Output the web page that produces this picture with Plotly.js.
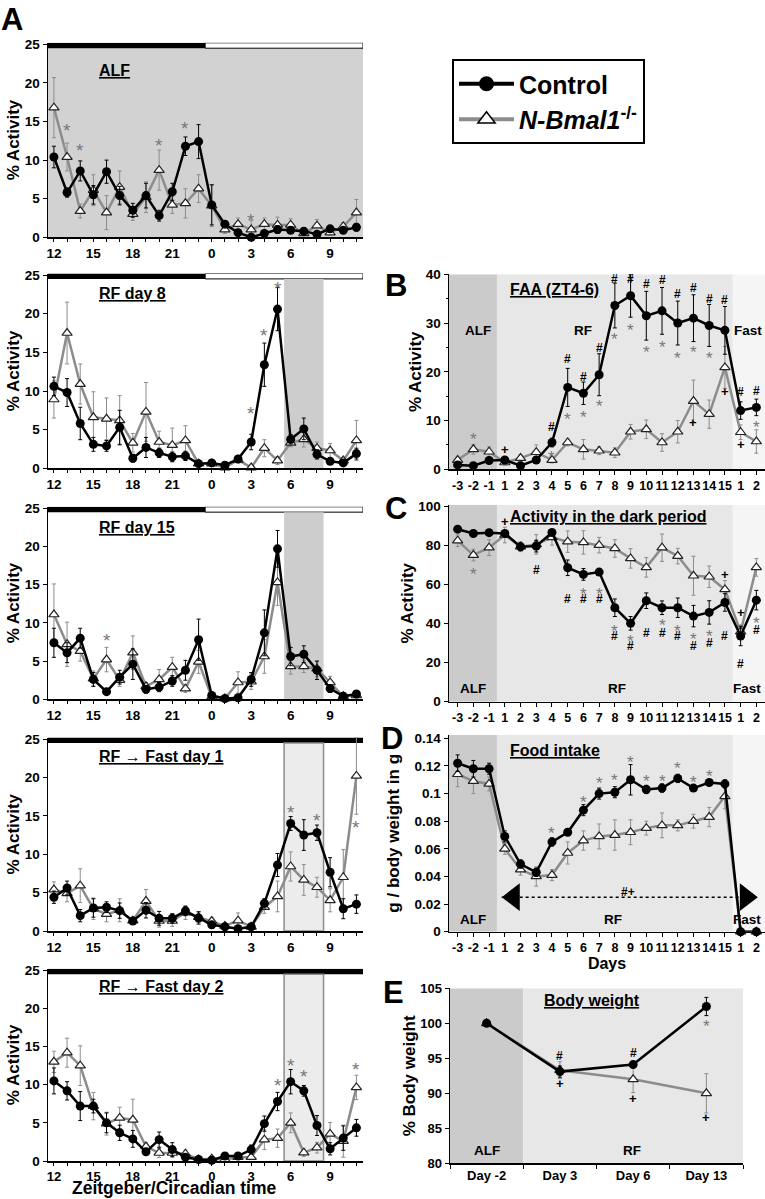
<!DOCTYPE html>
<html>
<head>
<meta charset="utf-8">
<script src="https://cdn.plot.ly/plotly-3.0.1.min.js"></script>
<style>body{margin:0;background:#fff}</style>
</head>
<body>
<div id="fig" style="width:765px;height:1199px"></div>
<script>
// circadian hours on the left column, ZT12 -> ZT11
var hours = [12,13,14,15,16,17,18,19,20,21,22,23,0,1,2,3,4,5,6,7,8,9,10,11];
var days = ['-3','-2','-1','1','2','3','4','5','6','7','8','9','10','11','12','13','14','15','1','2'];
var bwDays = ['Day -2','Day 3','Day 6','Day 13'];

// A - ALF
var alfCtl    = [10.4,5.8,8.6,5.5,8.5,5.4,3.5,5.4,2.8,5.9,11.8,12.4,4.2,1.7,0.6,0.0,0.5,1.0,0.9,0.8,0.4,1.1,0.9,1.3];
var alfCtlErr = [1.4,0.6,1.3,1.2,1.5,1.2,0.9,1.6,0.7,1.1,1.2,2.2,2.6,0.4,0.4,0.3,0.4,0.5,0.4,0.4,0.3,0.4,0.3,0.5];
var alfKo     = [16.8,10.4,3.4,6.1,3.2,6.5,3.0,5.2,8.7,4.2,4.4,6.3,4.1,1.0,1.7,1.0,1.7,1.6,1.6,0.5,1.5,0.6,1.4,3.2];
var alfKoErr  = [3.9,1.8,0.9,2.0,2.2,2.1,0.8,2.0,2.6,1.1,1.9,1.8,2.7,0.5,0.8,1.2,0.8,1.0,0.8,0.3,0.8,0.3,0.5,1.7];
var alfStarAt = [1,2,8,10,15];
var alfStarY  = [14.5,11.9,12.6,14.7,2.8];

// A - RF day 8
var rf8Ctl    = [10.6,9.8,5.8,3.1,2.9,5.3,1.3,2.7,2.0,1.5,1.6,0.6,0.7,0.4,1.2,3.4,13.4,20.6,3.75,5.1,1.8,0.9,0.7,1.9];
var rf8CtlErr = [1.2,1.8,2.1,0.9,0.7,2.2,0.5,1.3,0.6,0.6,0.6,0.3,0.3,0.3,0.4,1.0,2.8,2.8,0.6,1.4,0.6,0.4,0.3,0.7];
var rf8Ko     = [8.9,17.5,10.9,6.6,6.4,6.2,3.3,7.3,3.4,3.0,3.6,0.6,0.6,0.1,1.1,0.1,2.6,1.0,3.3,3.75,2.6,2.3,1.0,3.6];
var rf8KoErr  = [2.4,4.0,2.6,3.3,2.7,3.2,1.2,3.8,1.4,2.2,1.9,0.3,0.3,0.1,0.4,0.1,1.1,0.5,0.5,1.0,0.8,0.9,0.4,2.6];
var rf8StarAt = [15,16,17];
var rf8StarY  = [7.7,17.8,23.9];

// A - RF day 15
var rf15Ctl    = [7.4,6.1,8.0,2.6,1.0,2.9,4.6,1.3,1.6,2.4,3.8,7.8,0.5,0.1,0.2,2.6,8.7,19.7,5.6,5.9,3.8,1.4,0.4,0.7];
var rf15CtlErr = [1.9,1.3,1.3,0.9,0.4,0.9,2.0,0.5,0.6,0.7,1.3,2.7,0.3,0.1,0.1,0.9,3.0,2.4,1.2,1.1,1.2,0.5,0.3,0.3];
var rf15Ko     = [11.1,7.2,6.3,2.7,5.2,2.5,6.1,1.7,2.6,4.2,1.4,4.9,0.3,0.1,2.2,2.3,5.6,15.3,4.3,4.3,4.0,2.2,0.4,0.5];
var rf15KoErr  = [4.0,2.9,1.3,1.0,1.6,0.8,2.2,0.5,1.3,1.3,0.5,1.5,0.2,0.1,1.4,1.0,2.2,3.0,1.0,0.8,1.0,0.8,0.3,0.3];
var rf15StarAt = [4];
var rf15StarY  = [8.3];

// A - RF -> Fast day 1
var f1Ctl    = [4.4,5.6,2.0,3.0,3.1,2.65,1.3,2.7,1.65,1.65,2.6,1.7,0.8,0.55,0.3,0.55,3.6,8.6,14.0,12.5,12.8,7.65,2.9,3.5];
var f1CtlErr = [0.8,0.9,0.8,1.2,0.7,1.0,0.4,1.0,0.9,0.6,0.6,0.8,0.4,0.3,0.2,0.3,0.6,1.5,0.9,2.0,1.0,1.9,1.3,1.2];
var f1Ko     = [5.4,4.9,5.9,2.9,2.2,2.7,1.35,3.9,1.3,1.3,2.4,1.8,1.3,0.65,1.35,0.55,3.1,4.5,8.4,6.65,5.7,4.0,7.0,20.2];
var f1KoErr  = [1.0,1.1,2.2,1.4,1.0,1.5,0.4,1.5,0.8,0.7,0.9,0.7,0.4,0.3,1.0,0.3,0.8,2.0,1.9,2.0,1.3,1.5,3.6,5.0];
var f1StarAt = [18,20,23];
var f1StarY  = [16.1,15.0,14.1];

// A - RF -> Fast day 2
var f2Ctl    = [10.5,9.2,7.2,7.2,5.0,3.7,2.9,1.2,2.8,1.5,0.5,0.2,0.1,0.65,0.65,1.5,4.9,7.8,10.4,9.2,4.65,1.6,3.0,4.35];
var f2CtlErr = [1.7,1.2,1.9,0.9,1.3,1.0,1.1,0.4,1.0,0.9,0.4,0.2,0.1,0.3,0.3,0.6,1.0,1.2,1.6,0.7,1.3,0.8,1.6,1.1];
var f2Ko     = [13.0,14.2,12.5,7.2,4.9,5.65,5.4,1.9,1.05,1.05,0.95,0.2,0.3,0.2,0.5,0.5,2.8,3.0,5.0,1.1,1.75,3.55,2.6,9.65];
var f2KoErr  = [1.4,1.9,2.6,1.8,1.5,1.4,2.7,0.5,0.6,0.6,0.5,0.1,0.2,0.1,0.3,0.3,1.3,1.2,1.3,0.5,0.7,1.5,2.1,1.6];
var f2StarAt = [17,18,19,23];
var f2StarY  = [10.5,13.2,11.7,12.7];

// B - FAA (ZT4-6)
var faaCtl    = [0.9,0.75,1.8,1.9,0.75,1.9,5.5,16.8,15.6,19.4,33.6,35.6,31.5,32.5,30.0,31.0,29.5,28.5,12.05,12.7];
var faaCtlErr = [0.5,0.4,0.6,0.6,0.6,0.7,0.9,3.9,2.3,4.3,4.6,4.4,5.0,4.8,4.5,4.8,4.3,4.9,1.8,1.7];
var faaKo     = [1.9,4.1,3.6,1.4,2.3,3.5,1.9,5.5,4.1,3.8,3.4,7.7,8.2,5.5,7.7,14.0,11.3,20.9,7.6,5.7];
var faaKoErr  = [0.6,1.0,1.0,0.5,0.7,1.5,0.6,0.7,2.0,0.8,1.0,1.5,1.9,1.8,2.3,4.3,2.9,4.3,1.5,2.4];
var faaHashAt = [6,7,8,9,10,11,12,13,14,15,16,17,18,19];
var faaHashY  = [8.6,22.6,19.0,24.9,39.0,39.0,38.0,38.8,36.0,37.2,34.9,34.8,15.8,16.0];
var faaStarAt = [1,6,7,8,9,10,11,12,13,14,15,16,19];
var faaStarY  = [7.05,3.4,11.3,11.7,13.9,27.6,29.5,25.0,26.0,23.8,25.0,23.8,9.5];
var faaPlusAt = [3,15,17,18];
var faaPlusY  = [4.0,9.5,16.0,5.0];

// C - activity in the dark period
var darkCtl    = [88.5,86.3,86.7,86.3,79.5,79.8,86.8,68.7,65.3,66.5,48.2,40.2,51.8,48.2,48.2,43.9,45.8,50.9,33.7,52.1];
var darkCtlErr = [1.2,1.0,1.2,1.5,2.0,3.0,1.5,4.0,3.0,1.2,4.5,3.5,4.0,3.5,5.0,5.5,6.0,4.5,5.0,5.0];
var darkKo     = [82.6,75.2,79.0,85.5,79.5,80.7,84.3,82.1,81.7,80.3,78.6,73.5,68.9,79.0,74.7,64.6,64.1,57.6,35.9,68.9];
var darkKoErr  = [3.0,3.0,4.0,4.0,2.5,5.0,4.0,5.5,6.0,4.0,4.5,5.0,5.0,7.0,4.0,10.0,5.5,4.5,3.5,4.5];
var darkPlusAt = [3,17,18];
var darkPlusY  = [92.3,65.3,45.6];
var darkStarAt = [1,8,9,10,11,13,14,15,16,19];
var darkStarY  = [67.9,57.6,57.6,38.8,33.7,41.4,38.8,34.5,36.2,42.5];
var darkHashAt = [5,7,8,9,10,11,12,13,14,15,16,17,18,19];
var darkHashY  = [67.5,52.5,52.5,52.5,33.7,28.5,35.4,35.4,33.7,28.5,30.3,33.7,19.3,36.6];

// D - food intake
var foodCtl    = [0.122,0.118,0.118,0.069,0.049,0.043,0.065,0.072,0.088,0.100,0.101,0.110,0.103,0.104,0.111,0.104,0.108,0.107,0,0];
var foodCtlErr = [0.006,0.006,0.004,0.004,0.003,0.003,0.003,0.002,0.004,0.004,0.004,0.011,0.003,0.003,0.003,0.002,0.002,0.003,0,0];
var foodKo     = [0.114,0.109,0.107,0.060,0.045,0.040,0.041,0.057,0.066,0.069,0.070,0.072,0.075,0.077,0.077,0.080,0.083,0.098,0,0];
var foodKoErr  = [0.009,0.009,0.005,0.004,0.004,0.007,0.004,0.008,0.007,0.009,0.011,0.009,0.005,0.009,0.004,0.005,0.007,0.009,0,0];
var foodStarAt = [6,8,9,10,11,12,13,14,15,16];
var foodStarY  = [0.0748,0.0973,0.111,0.1134,0.126,0.1122,0.1122,0.1219,0.1115,0.1159];

// E - body weight
var bwCtl    = [100,93.1,94.1,102.4];
var bwCtlErr = [0,0.8,0.3,1.3];
var bwKo     = [100,93.3,92.0,90.0];
var bwKoErr  = [0,1.2,1.9,2.8];
var bwHashAt = [1,2];
var bwHashY  = [95.4,95.8];
var bwPlusAt = [1,2,3];
var bwPlusY  = [91.4,89.2,86.6];
var bwStarAt = [3];
var bwStarY  = [100.2];

var fam = 'Arial, "Liberation Sans", Helvetica, sans-serif';
var koCol = '#8c8c8c';
var W = 765, H = 1199;
function px(p) { return p / W; }
function py(p) { return 1 - p / H; }

var hourPos = hours.map(function (h, i) { return i; });
var hourText = hours.map(function (h) { return h % 3 === 0 ? String(h) : ''; });
var dayPos = days.map(function (d, i) { return i; });
var bwPos = bwDays.map(function (d, i) { return i; });

var traces = [];
// legend-only samples
traces.push({x:[null], y:[null], type:'scatter', mode:'lines+markers', name:'<b>Control</b>',
  line:{color:'#000', width:4}, marker:{symbol:'circle', size:15, color:'#000'}});
traces.push({x:[null], y:[null], type:'scatter', mode:'lines+markers', name:'<b><i>N-Bmal1</i><sup>-/-</sup></b>',
  line:{color:koCol, width:4}, marker:{symbol:'triangle-up', size:15, color:'#fff', line:{color:'#000', width:1.5}}});

function addPair(id, pos, ctl, ctlErr, ko, koErr) {
  traces.push({x:pos, y:ko, xaxis:'x'+id, yaxis:'y'+id, type:'scatter', mode:'lines+markers',
    showlegend:false, cliponaxis:false,
    line:{color:koCol, width:2.5},
    marker:{symbol:'triangle-up', size:9, color:'#fff', line:{color:'#222', width:1.2}},
    error_y:{type:'data', array:koErr, visible:true, color:koCol, thickness:1, width:2}});
  traces.push({x:pos, y:ctl, xaxis:'x'+id, yaxis:'y'+id, type:'scatter', mode:'lines+markers',
    showlegend:false, cliponaxis:false,
    line:{color:'#000', width:2.5},
    marker:{symbol:'circle', size:9, color:'#000'},
    error_y:{type:'data', array:ctlErr, visible:true, color:'#000', thickness:1, width:2}});
}

addPair('', hourPos, alfCtl, alfCtlErr, alfKo, alfKoErr);
addPair('2', hourPos, rf8Ctl, rf8CtlErr, rf8Ko, rf8KoErr);
addPair('3', hourPos, rf15Ctl, rf15CtlErr, rf15Ko, rf15KoErr);
addPair('4', hourPos, f1Ctl, f1CtlErr, f1Ko, f1KoErr);
addPair('5', hourPos, f2Ctl, f2CtlErr, f2Ko, f2KoErr);
addPair('6', dayPos, faaCtl, faaCtlErr, faaKo, faaKoErr);
addPair('7', dayPos, darkCtl, darkCtlErr, darkKo, darkKoErr);
addPair('8', dayPos, foodCtl, foodCtlErr, foodKo, foodKoErr);
addPair('9', bwPos, bwCtl, bwCtlErr, bwKo, bwKoErr);

// RF period arrow in D
traces.push({x:[2.8, 19.1], y:[0.025, 0.025], xaxis:'x8', yaxis:'y8', type:'scatter', mode:'lines',
  showlegend:false, cliponaxis:false, line:{color:'#000', width:1.5, dash:'dot'}});
traces.push({x:[3.57, 18.33], y:[0.025, 0.025], xaxis:'x8', yaxis:'y8', type:'scatter', mode:'markers',
  showlegend:false, cliponaxis:false,
  marker:{symbol:['triangle-left','triangle-right'], size:24, color:'#000'}});

var tickFont = {family:fam, size:13.5, color:'#000', weight:'bold'};
var dayFont = {family:fam, size:12.5, color:'#000', weight:'bold'};
var titleFont = {family:fam, size:17, color:'#000', weight:'bold'};
function baseAxis(extra) {
  var a = {showline:true, linecolor:'#000', linewidth:1.5, ticks:'outside', ticklen:4, tickwidth:1,
    tickcolor:'#000', showgrid:false, zeroline:false, tickfont:tickFont, tickangle:0, fixedrange:true};
  for (var k in extra) a[k] = extra[k];
  return a;
}

var layout = {width:W, height:H, margin:{l:0, r:0, t:0, b:0}, paper_bgcolor:'#fff', plot_bgcolor:'rgba(0,0,0,0)',
  font:{family:fam, color:'#000'},
  legend:{x:px(452), y:py(59), xanchor:'left', yanchor:'top', bgcolor:'#fff', bordercolor:'#000', borderwidth:2,
    font:{family:fam, size:25, color:'#000'}, itemwidth:55, tracegroupgap:0},
  shapes:[], annotations:[]};

// left column
var leftPix = [[237.3, 42.8], [468.3, 273.5], [699.3, 506.8], [931, 737.5], [1161, 968.8]];
var leftIds = ['', '2', '3', '4', '5'];
leftIds.forEach(function (id, i) {
  layout['xaxis' + id] = baseAxis({domain:[px(48), px(363)], range:[-0.45, 23.5], anchor:'y' + id,
    tickmode:'array', tickvals:hourPos, ticktext:hourText, ticklen:3});
  layout['yaxis' + id] = baseAxis({domain:[py(leftPix[i][0]), py(leftPix[i][1])], range:[0, 25.2], anchor:'x' + id,
    tickmode:'array', tickvals:[0,5,10,15,20,25],
    title:{text:'% Activity', font:titleFont, standoff:1}});
});
layout.xaxis5.tickfont = {family:fam, size:13, color:'#000', weight:'bold'};

// right column
layout.xaxis6 = baseAxis({domain:[px(449), 1], range:[-0.55, 19.55], anchor:'y6', tickmode:'array', tickvals:dayPos, ticktext:days, tickfont:dayFont});
layout.yaxis6 = baseAxis({domain:[py(469.3), py(274.3)], range:[0, 40], anchor:'x6', tickmode:'linear', tick0:0, dtick:10,
  minor:{dtick:5, ticks:'outside', ticklen:2, tickcolor:'#000'}, title:{text:'% Activity', font:titleFont, standoff:0}});
layout.xaxis7 = baseAxis({domain:[px(449), 1], range:[-0.55, 19.55], anchor:'y7', tickmode:'array', tickvals:dayPos, ticktext:days, tickfont:dayFont});
layout.yaxis7 = baseAxis({domain:[py(701.7), py(504.8)], range:[0, 101], anchor:'x7', tickmode:'array', tickvals:[0,20,40,60,80,100],
  title:{text:'% Activity', font:titleFont, standoff:0}});
layout.xaxis8 = baseAxis({domain:[px(449), 1], range:[-0.55, 19.55], anchor:'y8', tickmode:'array', tickvals:dayPos, ticktext:days, tickfont:dayFont,
  title:{text:'Days', font:{family:fam, size:16, color:'#000', weight:'bold'}, standoff:0}});
var foodTicks = [0,0.02,0.04,0.06,0.08,0.1,0.12,0.14];
layout.yaxis8 = baseAxis({domain:[py(931.7), py(734.9)], range:[0, 0.1425], anchor:'x8', tickmode:'array', tickvals:foodTicks,
  ticktext:foodTicks.map(String), title:{text:'g / body weight in g', font:titleFont, standoff:10}});
layout.xaxis9 = baseAxis({domain:[px(450), px(743)], range:[-0.5, 3.5], anchor:'y9', tickmode:'array', tickvals:bwPos, ticktext:bwDays,
  ticks:'', tickfont:{family:fam, size:13, color:'#000', weight:'bold'},
  minor:{tickmode:'array', tickvals:[-0.5,0.5,1.5,2.5,3.5], ticks:'outside', ticklen:4, tickcolor:'#000'}});
layout.yaxis9 = baseAxis({domain:[py(1163.3), py(988.3)], range:[80, 105], anchor:'x9', tickmode:'linear', tick0:80, dtick:5,
  tickfont:{family:fam, size:13, color:'#000', weight:'bold'},
  title:{text:'% Body weight', font:titleFont, standoff:0}});

function rect(id, x0, x1, y0, y1, fill, lineCol, lw) {
  layout.shapes.push({type:'rect', xref:'x' + id, yref:'y' + id, x0:x0, x1:x1, y0:y0, y1:y1, layer:'below',
    fillcolor:fill, line:{color:lineCol || fill, width:lw || 0}});
}
// light/dark bars and feeding windows
rect('', -0.45, 23.5, 0, 24.5, '#d2d2d2');
['', '2', '3'].forEach(function (id) {
  rect(id, -0.45, 11.5, 24.5, 25.2, '#000');
  rect(id, 11.5, 23.5, 24.5, 25.2, '#fff', '#000', 1);
});
rect('2', 17.5, 20.5, 0, 24.5, '#cdcdcd');
rect('3', 17.5, 20.5, 0, 24.5, '#cdcdcd');
['4', '5'].forEach(function (id) {
  rect(id, -0.45, 23.6, 24.5, 25.2, '#000');
  rect(id, 17.5, 20.5, 0, 24.5, '#ececec', '#8c8c8c', 1.5);
});
[['6', 40], ['7', 101], ['8', 0.1425]].forEach(function (p) {
  rect(p[0], -0.55, 2.5, 0, p[1], '#cbcbcb');
  rect(p[0], 2.5, 17.5, 0, p[1], '#e7e7e7');
  rect(p[0], 17.5, 19.55, 0, p[1], '#f5f5f5');
});
rect('9', -0.5, 0.5, 80, 105, '#cbcbcb');
rect('9', 0.5, 3.5, 80, 105, '#e7e7e7');

var ann = layout.annotations;
function marks(id, at, ys, txt, color, size, shift) {
  at.forEach(function (k, i) {
    ann.push({xref:'x' + id, yref:'y' + id, x:k, y:ys[i], text:txt, showarrow:false, yshift:shift || 0,
      font:{family:fam, size:size, color:color}});
  });
}
function label(id, x, y, txt, size, anchor) {
  ann.push({xref:'x' + id, yref:'y' + id, x:x, y:y, text:txt, showarrow:false, xanchor:anchor || 'center',
    font:{family:fam, size:size, color:'#000', weight:'bold'}});
}
var starCol = '#777';
marks('', alfStarAt, alfStarY, '*', starCol, 19, -5);
marks('2', rf8StarAt, rf8StarY, '*', starCol, 19, -5);
marks('3', rf15StarAt, rf15StarY, '*', starCol, 19, -5);
marks('4', f1StarAt, f1StarY, '*', starCol, 19, -5);
marks('5', f2StarAt, f2StarY, '*', starCol, 19, -5);
marks('6', faaStarAt, faaStarY, '*', starCol, 17, -5);
marks('6', faaHashAt, faaHashY, '<b>#</b>', '#000', 12);
marks('6', faaPlusAt, faaPlusY, '<b>+</b>', '#000', 13);
marks('7', darkStarAt, darkStarY, '*', starCol, 17, -5);
marks('7', darkHashAt, darkHashY, '<b>#</b>', '#000', 12);
marks('7', darkPlusAt, darkPlusY, '<b>+</b>', '#000', 13);
marks('8', foodStarAt, foodStarY, '*', starCol, 17, -5);
marks('9', bwStarAt, bwStarY, '*', starCol, 17, -5);
marks('9', bwHashAt, bwHashY, '<b>#</b>', '#000', 12);
marks('9', bwPlusAt, bwPlusY, '<b>+</b>', '#000', 13);
label('8', 10.85, 0.029, '#+', 12);

label('', 3.3, 21.6, '<u>ALF</u>', 16, 'left');
label('2', 3.3, 22.6, '<u>RF day 8</u>', 16, 'left');
label('3', 3.3, 22.5, '<u>RF day 15</u>', 16, 'left');
label('4', 3.3, 22.7, '<u>RF \u2192 Fast day 1</u>', 16, 'left');
label('5', 3.3, 22.9, '<u>RF \u2192 Fast day 2</u>', 16, 'left');

label('6', 3.2, 36.8, '<u>FAA (ZT4-6)</u>', 16, 'left');
label('6', 1.3, 28.5, 'ALF', 13.5);
label('6', 8.0, 28.5, 'RF', 13.5);
label('6', 18.47, 28.5, 'Fast', 13.5);
label('7', 3.2, 94.9, '<u>Activity in the dark period</u>', 16, 'left');
label('7', 0.96, 6.8, 'ALF', 13.5);
label('7', 10.16, 6.8, 'RF', 13.5);
label('7', 18.4, 6.8, 'Fast', 13.5);
label('8', 3.2, 0.131, '<u>Food intake</u>', 16, 'left');
label('8', 0.96, 0.0085, 'ALF', 13.5);
label('8', 9.9, 0.0085, 'RF', 13.5);
label('8', 18.4, 0.0085, 'Fast', 13.5);
label('9', 0.75, 103.3, '<u>Body weight</u>', 16, 'left');
label('9', 0, 81.9, 'ALF', 13.5);
label('9', 1.98, 81.9, 'RF', 13.5);

// x title of the bottom-left panel
ann.push({xref:'paper', yref:'paper', x:px(174), y:0, yshift:-1, text:'Zeitgeber/Circadian time', showarrow:false,
  xanchor:'center', yanchor:'bottom', font:{family:fam, size:17.5, color:'#000', weight:'bold'}});

// panel letters
[['A', 12, 0], ['B', 396, 266], ['C', 396, 489], ['D', 392, 719], ['E', 394, 973]].forEach(function (l) {
  ann.push({xref:'paper', yref:'paper', x:px(l[1]), y:py(l[2]), text:l[0], showarrow:false,
    xanchor:'center', yanchor:'top', font:{family:fam, size:31, color:'#000', weight:'bold'}});
});

Plotly.newPlot('fig', traces, layout, {displayModeBar:false, staticPlot:true});
</script>
</body>
</html>
